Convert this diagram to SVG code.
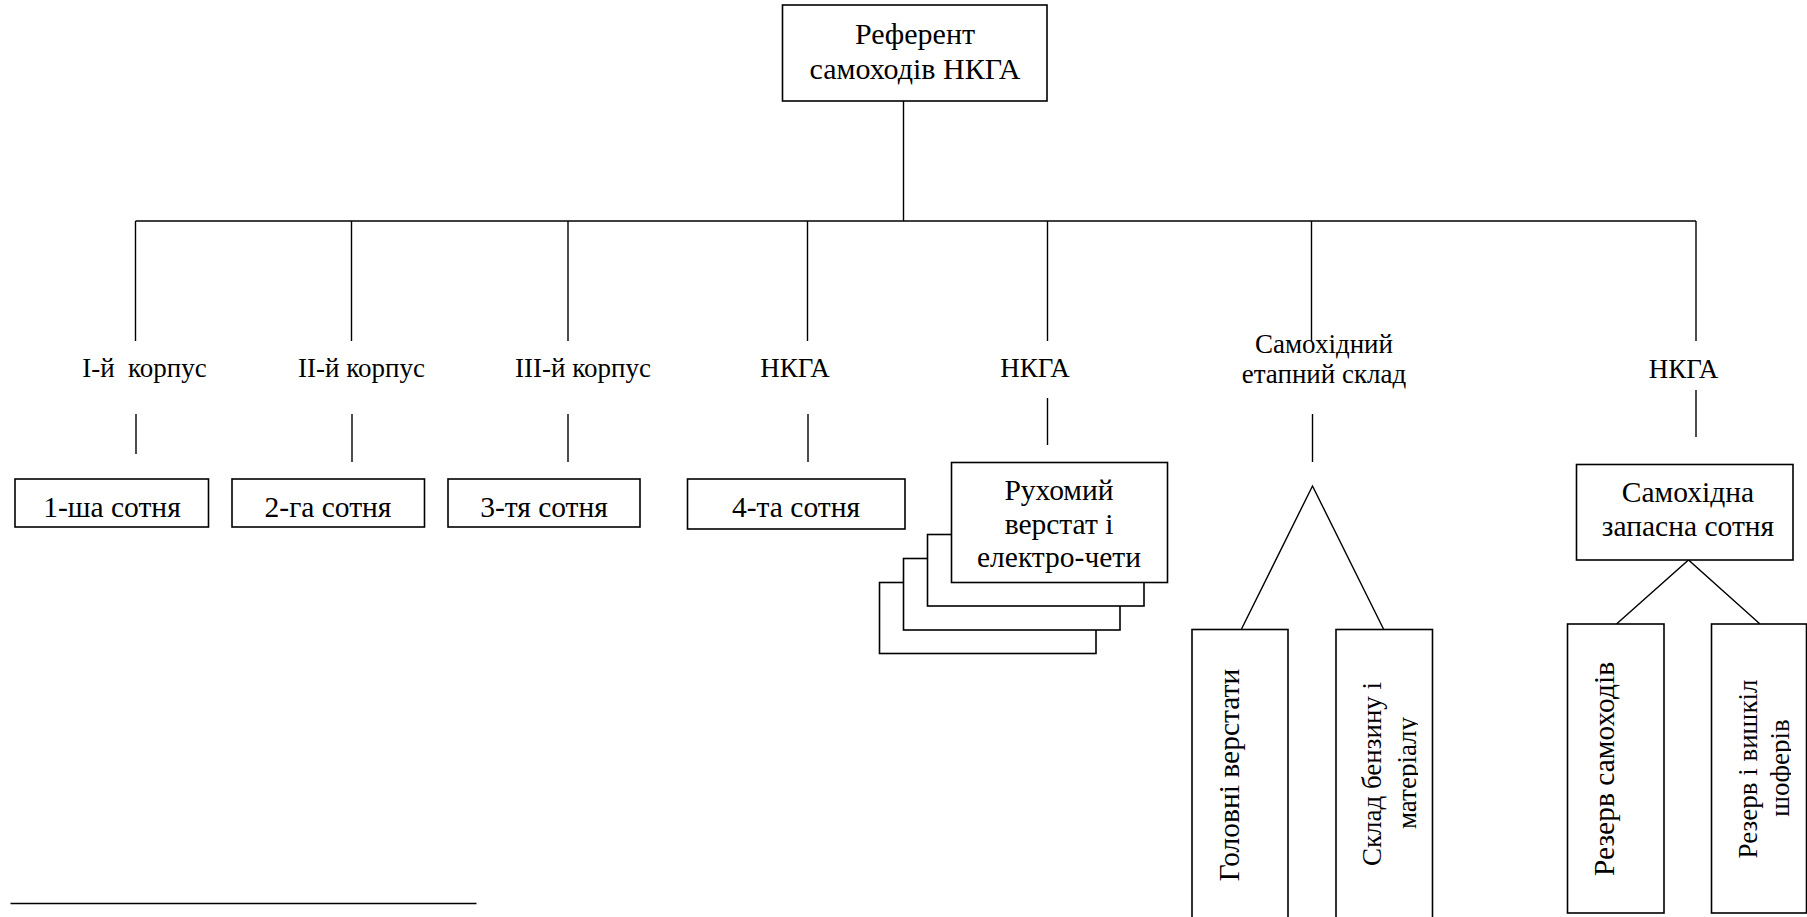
<svg xmlns="http://www.w3.org/2000/svg" width="1807" height="917" viewBox="0 0 1807 917">
<style>
  .box { fill: #fff; stroke: #000; stroke-width: 1.6; }
  .ln { fill: none; stroke: #000; stroke-width: 1.4; }
  text { font-family: "Liberation Serif", "Times New Roman", serif; fill: #000; text-anchor: middle; }
  .t30 { font-size: 30px; }
  .t29 { font-size: 29.5px; }
  .t27 { font-size: 27px; }
</style>
<defs>
  <clipPath id="clipSklad"><rect x="1336" y="629" width="82" height="288"/></clipPath>
  <clipPath id="clipShof"><rect x="1711" y="624" width="80" height="290"/></clipPath>
</defs>
<rect width="1807" height="917" fill="#fff"/>

<g id="connectors">
  <line class="ln" x1="903.5" y1="101" x2="903.5" y2="221"/>
  <line class="ln" x1="135.5" y1="221" x2="1696" y2="221"/>
  <line class="ln" x1="135.5" y1="221" x2="135.5" y2="341"/>
  <line class="ln" x1="351.5" y1="221" x2="351.5" y2="341"/>
  <line class="ln" x1="568" y1="221" x2="568" y2="341"/>
  <line class="ln" x1="807.5" y1="221" x2="807.5" y2="341"/>
  <line class="ln" x1="1047.5" y1="221" x2="1047.5" y2="341"/>
  <line class="ln" x1="1311.5" y1="221" x2="1311.5" y2="341"/>
  <line class="ln" x1="1696" y1="221" x2="1696" y2="341"/>
  <line class="ln" x1="136" y1="414" x2="136" y2="454"/>
  <line class="ln" x1="352" y1="414" x2="352" y2="462"/>
  <line class="ln" x1="568" y1="414" x2="568" y2="462"/>
  <line class="ln" x1="808" y1="414" x2="808" y2="462"/>
  <line class="ln" x1="1047.5" y1="398" x2="1047.5" y2="445"/>
  <line class="ln" x1="1312.5" y1="414" x2="1312.5" y2="462"/>
  <line class="ln" x1="1696" y1="390" x2="1696" y2="437"/>
  <polyline class="ln" points="1241.5,629 1312.5,486 1383.5,629"/>
  <polyline class="ln" points="1616.5,624 1688.5,560 1760,624"/>
  <line class="ln" x1="10.5" y1="903.5" x2="476.5" y2="903.5"/>
</g>

<g id="top">
  <rect class="box" x="782.5" y="5" width="264.5" height="96"/>
  <text class="t30" x="915" y="43.5">Референт</text>
  <text class="t30" x="915" y="78.5">самоходів НКГА</text>
</g>

<g id="label-k1"><text class="t27" x="144.5" y="377" xml:space="preserve">I-й  корпус</text></g>
<g id="label-k2"><text class="t27" x="361.5" y="377">II-й корпус</text></g>
<g id="label-k3"><text class="t27" x="583" y="377">III-й корпус</text></g>
<g id="label-n4"><text class="t27" x="795" y="377">НКГА</text></g>
<g id="label-n5"><text class="t27" x="1035" y="377">НКГА</text></g>
<g id="label-sklad">
  <text class="t27" x="1324" y="353">Самохідний</text>
  <text class="t27" x="1324" y="383">етапний склад</text>
</g>
<g id="label-n7"><text class="t27" x="1683.5" y="378">НКГА</text></g>

<g id="s1">
  <rect class="box" x="15" y="479" width="193.5" height="48"/>
  <text class="t29" x="112" y="516.5">1-ша сотня</text>
</g>
<g id="s2">
  <rect class="box" x="232" y="479" width="192.5" height="48"/>
  <text class="t29" x="328" y="516.5">2-га сотня</text>
</g>
<g id="s3">
  <rect class="box" x="448" y="479" width="192" height="48"/>
  <text class="t29" x="544" y="516.5">3-тя сотня</text>
</g>
<g id="s4">
  <rect class="box" x="687.5" y="479" width="217.5" height="50"/>
  <text class="t29" x="796" y="517">4-та сотня</text>
</g>

<g id="ruhomyi">
  <rect class="box" x="879.5" y="582.5" width="216.5" height="71"/>
  <rect class="box" x="903.5" y="558.5" width="216.5" height="71.5"/>
  <rect class="box" x="927.5" y="534.5" width="216.5" height="71.5"/>
  <rect class="box" x="951.5" y="462.5" width="216" height="120"/>
  <text class="t29" x="1059" y="500">Рухомий</text>
  <text class="t29" x="1059" y="533.5">верстат і</text>
  <text class="t29" x="1059" y="567">електро-чети</text>
</g>

<g id="zapasna">
  <rect class="box" x="1576.5" y="464.5" width="216.5" height="95.5"/>
  <text class="t29" x="1688" y="501.5">Самохідна</text>
  <text class="t29" x="1688" y="535.5">запасна сотня</text>
</g>

<g id="golovni">
  <rect class="box" x="1192" y="629.5" width="96" height="300"/>
  <text class="t29" transform="translate(1239,775) rotate(-90)">Головні верстати</text>
</g>
<g id="skladbenz">
  <rect class="box" x="1336" y="629.5" width="96.5" height="300"/>
  <g clip-path="url(#clipSklad)">
    <text class="t27" transform="translate(1381,774) rotate(-90)">Склад бензину і</text>
    <text class="t27" transform="translate(1416,773) rotate(-90)">матеріалу</text>
  </g>
</g>
<g id="rezerv1">
  <rect class="box" x="1567.5" y="624" width="96.5" height="289"/>
  <text class="t29" transform="translate(1614,769) rotate(-90)">Резерв самоходів</text>
</g>
<g id="rezerv2">
  <rect class="box" x="1711.5" y="624" width="95" height="289"/>
  <g clip-path="url(#clipShof)">
    <text class="t27" transform="translate(1757,769) rotate(-90)">Резерв і вишкіл</text>
    <text class="t27" transform="translate(1789,768) rotate(-90)">шоферів</text>
  </g>
</g>
</svg>
